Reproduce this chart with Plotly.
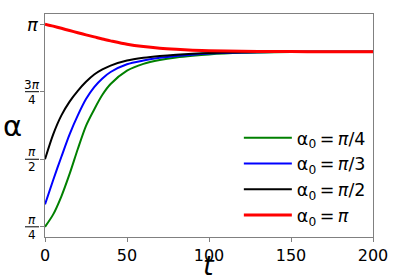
import plotly.graph_objects as go
import math

t = [0, 5, 10, 15, 20, 25, 30, 35, 40, 50, 60, 70, 80, 90, 100, 120, 140, 160, 180, 200]
alpha_pi4 = [0.785, 0.93, 1.14, 1.40, 1.69, 1.96, 2.15, 2.32, 2.445, 2.60, 2.68, 2.725, 2.755, 2.775, 2.79, 2.808, 2.816, 2.82, 2.822, 2.822]
alpha_pi3 = [1.047, 1.33, 1.60, 1.86, 2.08, 2.27, 2.41, 2.51, 2.585, 2.675, 2.718, 2.75, 2.772, 2.787, 2.80, 2.812, 2.818, 2.821, 2.822, 2.822]
alpha_pi2 = [1.571, 1.861, 2.081, 2.241, 2.366, 2.471, 2.556, 2.615, 2.66, 2.718, 2.75, 2.771, 2.786, 2.797, 2.805, 2.815, 2.819, 2.821, 2.822, 2.822]
alpha_pi = [3.1416, 3.118, 3.093, 3.067, 3.042, 3.017, 2.993, 2.968, 2.947, 2.908, 2.881, 2.862, 2.849, 2.839, 2.833, 2.826, 2.823, 2.822, 2.822, 2.822]

series_names = ["α<sub>0</sub>\u2009=\u2009<i>π</i>/4", "α<sub>0</sub>\u2009=\u2009<i>π</i>/3",
                "α<sub>0</sub>\u2009=\u2009<i>π</i>/2", "α<sub>0</sub>\u2009=\u2009<i>π</i>"]
series_colors = ["green", "blue", "black", "red"]
series_widths = [2, 2, 2, 3]
series_values = [alpha_pi4, alpha_pi3, alpha_pi2, alpha_pi]

ytick_vals = [math.pi / 4, math.pi / 2, 3 * math.pi / 4, math.pi]
ytick_num = ["<i>π</i>", "<i>π</i>", "3<i>π</i>", None]
ytick_den = ["4", "2", "4", None]
xtick_vals = [0, 50, 100, 150, 200]

fig = go.Figure()
for name, col, w, vals in zip(series_names, series_colors, series_widths, series_values):
    fig.add_trace(go.Scatter(x=t, y=vals, mode="lines", name=name,
                             line=dict(color=col, width=w, shape="spline", smoothing=0.8)))

axis_col = "#808080"
fig.update_xaxes(range=[0, 200], tickvals=xtick_vals, showgrid=False, zeroline=False,
                 showline=True, linecolor=axis_col, linewidth=1, mirror=True,
                 ticks="outside", ticklen=4, tickcolor=axis_col, automargin=False,
                 tickfont=dict(size=16, color="black"))
fig.update_yaxes(range=[0.667, 3.2594], tickvals=ytick_vals, showticklabels=False,
                 showgrid=False, zeroline=False, automargin=False,
                 showline=True, linecolor=axis_col, linewidth=1, mirror=True,
                 ticks="outside", ticklen=4, tickcolor=axis_col)

for v, num, den in zip(ytick_vals, ytick_num, ytick_den):
    if num is None:
        fig.add_annotation(x=0, xref="paper", y=v, yref="y", text="<i>π</i>", showarrow=False,
                           xanchor="right", xshift=-4, yshift=0, font=dict(size=18, color="black"))
    else:
        fig.add_annotation(x=0, xref="paper", y=v, yref="y", text=num, showarrow=False,
                           xanchor="center", xshift=-13, yshift=7, font=dict(size=12, color="black"))
        fig.add_annotation(x=0, xref="paper", y=v, yref="y", text=den, showarrow=False,
                           xanchor="center", xshift=-13, yshift=-8, font=dict(size=12, color="black"))
        fig.add_shape(type="line", xref="paper", xsizemode="pixel", xanchor=0, x0=-20, x1=-6,
                      yref="y", ysizemode="pixel", yanchor=v, y0=0, y1=0,
                      line=dict(color="black", width=1))

# axis titles
fig.add_annotation(x=0, xref="paper", y=0.5, yref="paper", text="α", showarrow=False,
                   xanchor="center", yanchor="middle", xshift=-33, font=dict(size=29, color="black"))
fig.add_annotation(x=0.5, xref="paper", y=0, yref="paper", text="<i>t</i>", showarrow=False,
                   xanchor="center", yanchor="middle", yshift=-28, font=dict(size=27, color="black"))

fig.update_layout(
    width=415, height=278,
    margin=dict(l=45, r=42, t=14, b=41),
    plot_bgcolor="white", paper_bgcolor="white",
    font=dict(family="DejaVu Sans", color="black"),
    showlegend=True,
    legend=dict(x=0.591, y=0.525, xanchor="left", yanchor="top", bgcolor="rgba(255,255,255,0)",
                font=dict(size=17.5), tracegroupgap=0, itemwidth=48),
)
fig.write_html("out.html", config={"displayModeBar": False},
               post_script="document.body.style.margin='0';document.body.style.overflow='hidden';")
